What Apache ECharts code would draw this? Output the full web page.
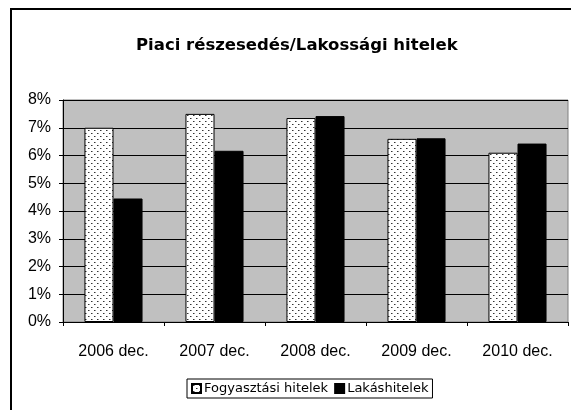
<!DOCTYPE html>
<html>
<head>
<meta charset="utf-8">
<script src="https://cdn.jsdelivr.net/npm/echarts@6/dist/echarts.min.js"></script>
<style>
html,body{margin:0;padding:0;background:#fff;}
#chart{width:571px;height:410px;}
</style>
</head>
<body>
<div id="chart"></div>
<script>
var categories = ['2006 dec.', '2007 dec.', '2008 dec.', '2009 dec.', '2010 dec.'];
var fogyasztasi = [7.0, 7.5, 7.35, 6.6, 6.1];
var lakas = [4.45, 6.17, 7.42, 6.62, 6.43];
var yTicks = [0, 1, 2, 3, 4, 5, 6, 7, 8];
var seriesNames = ['Fogyasztási hitelek', 'Lakáshitelek'];

function makeDots() {
  var c = document.createElement('canvas');
  c.width = 6; c.height = 6;
  var ctx = c.getContext('2d');
  ctx.fillStyle = '#ffffff';
  ctx.fillRect(0, 0, 6, 6);
  ctx.fillStyle = '#333333';
  ctx.fillRect(1, 1, 1, 1);
  ctx.fillRect(4, 4, 1, 1);
  ctx.fillStyle = '#999999';
  ctx.fillRect(2, 1, 1, 1);
  ctx.fillRect(5, 4, 1, 1);
  return c;
}
var dots = makeDots();

var chart = echarts.init(document.getElementById('chart'), null, {renderer: 'canvas'});
chart.setOption({
  animation: false,
  backgroundColor: '#ffffff',
  title: {
    text: 'Piaci részesedés/Lakossági hitelek',
    left: 131,
    top: 32,
    textStyle: {fontFamily: 'DejaVu Sans', fontWeight: 'bold', fontSize: 16.5, color: '#000'}
  },
  legend: {
    left: 187,
    top: 379,
    data: seriesNames,
    itemWidth: 9,
    itemHeight: 9,
    itemGap: 6,
    padding: [3, 4, 3, 4],
    borderColor: '#000',
    borderWidth: 1,
    icon: 'rect',
    textStyle: {fontFamily: 'DejaVu Sans', fontSize: 13, color: '#000', padding: [0, 0, 0, -2]}
  },
  graphic: [{
    type: 'rect',
    shape: {x: 11, y: 9, width: 620, height: 500},
    style: {fill: 'none', stroke: '#000', lineWidth: 2},
    z: 100,
    silent: true
  }],
  grid: {
    left: 63, right: 3, top: 100, bottom: 88,
    show: true,
    backgroundColor: '#c0c0c0',
    borderColor: '#808080',
    borderWidth: 1
  },
  xAxis: {
    type: 'category',
    data: categories,
    axisLine: {lineStyle: {color: '#000', width: 1}},
    axisTick: {show: true, length: 4, inside: false, alignWithLabel: false, lineStyle: {color: '#000'}},
    axisLabel: {margin: 22, fontFamily: 'Liberation Sans', fontSize: 16, color: '#000'}
  },
  yAxis: {
    type: 'value',
    min: 0, max: 8, interval: 1,
    axisLine: {show: true, lineStyle: {color: '#000', width: 1}},
    axisTick: {show: true, length: 4, lineStyle: {color: '#000'}},
    splitLine: {show: true, lineStyle: {color: '#000', width: 1}},
    axisLabel: {margin: 12, fontFamily: 'Liberation Sans', fontSize: 16, color: '#000',
      formatter: function (v) { return yTicks.indexOf(v) >= 0 ? v + '%' : ''; }}
  },
  series: [{
    name: seriesNames[0],
    type: 'bar',
    data: fogyasztasi,
    barGap: '0%',
    barCategoryGap: '42.5%',
    itemStyle: {color: {image: dots, repeat: 'repeat'}, borderColor: '#000', borderWidth: 1}
  }, {
    name: seriesNames[1],
    type: 'bar',
    data: lakas,
    barGap: '0%',
    barCategoryGap: '42.5%',
    itemStyle: {color: '#000', borderColor: '#000', borderWidth: 1}
  }]
});
</script>
</body>
</html>
